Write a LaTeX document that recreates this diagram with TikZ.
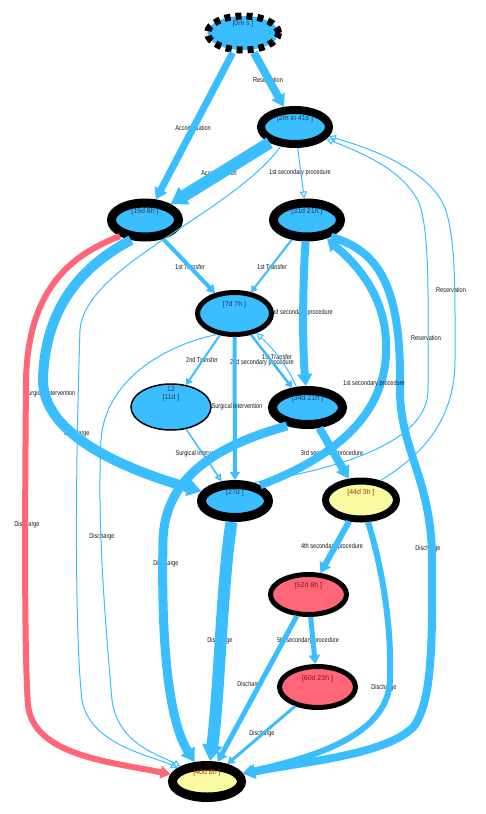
\documentclass[tikz,border=0pt]{standalone}
\usepackage{fontspec}
\usetikzlibrary{arrows.meta,shapes.geometric}
\newfontfamily\lblfont[FakeStretch=0.8]{Liberation Sans}
\newfontfamily\nodefont{Liberation Sans}
\definecolor{eb}{RGB}{59,190,255}
\definecolor{er}{RGB}{255,102,119}
\definecolor{ey}{RGB}{250,250,160}
\definecolor{tb}{RGB}{30,60,100}
\definecolor{ty}{RGB}{170,50,20}
\definecolor{tr}{RGB}{130,20,30}
\begin{document}
\begin{tikzpicture}[x=1bp,y=-1bp,
  st/.style={ellipse, draw=black, inner sep=0pt, fill=eb},
  elab/.style={font=\lblfont\fontsize{7bp}{8bp}\selectfont, text=black!90, inner sep=0pt},
  ntx/.style={font=\nodefont\fontsize{7bp}{8bp}\selectfont, inner sep=0pt, text=tb},
  fe/.style={draw=eb, line width=#1, -{Triangle[length=4bp 1, width=5bp 1.2]}},
  oe/.style={draw=eb, line width=#1, -{Triangle[open, length=7bp, width=7bp]}},
]
\fill[white] (0,0) rectangle (486,814);
\useasboundingbox (0,0) rectangle (486,814);

% states
\node[st, line width=7bp, dash pattern=on 6bp off 5bp, minimum width=71bp, minimum height=34bp] (n0) at (243,33) {};
\node[st, line width=8bp, minimum width=68bp, minimum height=34bp] (n1) at (295,127) {};
\node[st, line width=9bp, minimum width=67bp, minimum height=34bp] (n2) at (145,220) {};
\node[st, line width=9bp, minimum width=67bp, minimum height=34bp] (n3) at (307,220) {};
\node[st, line width=5bp, minimum width=74bp, minimum height=42bp] (n4) at (234.5,313.5) {};
\node[st, line width=1.5bp, minimum width=80bp, minimum height=46bp] (n5) at (171,407) {};
\node[st, line width=9bp, minimum width=70bp, minimum height=34bp] (n6) at (307.5,407.5) {};
\node[st, line width=9bp, minimum width=67bp, minimum height=33bp] (n7) at (235,501) {};
\node[st, line width=7bp, fill=ey, minimum width=71bp, minimum height=38bp] (n8) at (361,500) {};
\node[st, line width=5bp, fill=er, minimum width=76bp, minimum height=40bp] (n9) at (308.5,594.5) {};
\node[st, line width=5bp, fill=er, minimum width=76bp, minimum height=41bp] (n10) at (317.5,687) {};
\node[st, line width=9bp, fill=ey, minimum width=69bp, minimum height=32bp] (n11) at (207,781.5) {};
\draw[line width=1bp] (n11.center) ellipse [x radius=31bp, y radius=11.5bp];

% state texts
\node[ntx] (t0) at ([yshift=9bp]n0.center) {{[0m s ]}};
\node[ntx] (t1) at ([yshift=8.5bp]n1.center) {{[2m in 41s ]}};
\node[ntx] (t2) at ([yshift=8.5bp]n2.center) {{[19d 8h ]}};
\node[ntx] (t3) at ([yshift=8.5bp]n3.center) {{[31d 21h ]}};
\node[ntx] (t4) at ([yshift=8.5bp]n4.center) {{[7d 7h ]}};
\node[ntx] (t5a) at ([yshift=18bp]n5.center) {12};
\node[ntx] (t5b) at ([yshift=9bp]n5.center) {{[11d ]}};
\node[ntx] (t6) at ([yshift=9bp]n6.center) {{[34d 21h ]}};
\node[ntx] (t7) at ([yshift=8.5bp]n7.center) {{[27d ]}};
\node[ntx, text=ty] (t8) at ([yshift=7.5bp]n8.center) {{[44d 3h ]}};
\node[ntx, text=tr] (t9) at ([yshift=8.5bp]n9.center) {{[52d 8h ]}};
\node[ntx, text=tr] (t10) at ([yshift=8bp]n10.center) {{[60d 23h ]}};
\node[ntx, text=ty] (t11) at ([yshift=9bp]n11.center) {{[40d 8h ]}};

% edge labels (under the connectors)
\node[elab] (l1) at (193,128) {Accomodation};
\node[elab] (l2) at (268,80) {Reservation};
\node[elab] (l3) at (219,173) {Accomodation};
\node[elab] (l4) at (300,173) {1st secondary procedure};
\node[elab] (l5) at (77,434) {Discharge};
\node[elab] (l6) at (102,537) {Discharge};
\node[elab] (l7) at (190,267) {1st Transfer};
\node[elab] (l8) at (272,267) {1st Transfer};
\node[elab] (l9) at (301,313) {2nd secondary procedure};
\node[elab] (l10) at (262,363) {2nd secondary procedure};
\node[elab] (l11) at (277,357) {1st Transfer};
\node[elab] (l12) at (202,360) {2nd Transfer};
\node[elab] (l14) at (201,454) {Surgical intervention};
\node[elab] (l15) at (50,394) {Surgical intervention};
\node[elab] (l16) at (27,525) {Discharge};
\node[elab] (l17) at (166,564) {Discharge};
\node[elab] (l19) at (428,549) {Discharge};
\node[elab] (l20) at (332,454) {3rd secondary procedure};
\node[elab] (l21) at (220,641) {Discharge};
\node[elab] (l22) at (332,547) {4th secondary procedure};
\node[elab] (l23) at (384,688) {Discharge};
\node[elab] (l24) at (308,641) {5th secondary procedure};
\node[elab] (l25) at (250,685) {Discharge};
\node[elab] (l26) at (262,734) {Discharge};
\node[elab] (l27) at (426,338) {Reservation};
\node[elab] (l28) at (451,290) {Reservation};

% edges
\draw[fe=7bp] (n0) -- (n2);
\draw[fe=8bp] (n0) -- (n1);
\draw[fe=12bp] (n1) -- (n2);
\draw[oe=1bp] (n1) -- (n3);
\draw[oe=1bp] (n1) .. controls (230,215) and (85,265) .. (80,330) .. controls (75,480) and (75,640) .. (82,700) .. controls (90,745) and (150,755) .. (n11);
\draw[oe=1bp] (n4.230) .. controls (165,345) and (105,380) .. (101,440) .. controls (97,520) and (105,620) .. (112,700) .. controls (118,745) and (160,755) .. (n11);
\draw[fe=4bp] (n2) -- (n4);
\draw[fe=2bp] (n3) -- (n4);
\draw[fe=8bp] (n3) .. controls (303,280) and (302,340) .. (n6);
\draw[fe=2.5bp] (n4) -- (n6);
\draw[oe=1bp] (n6.118) .. controls (288,368) and (275,350) .. (n4);
\draw[fe=2bp] (n4) -- (n5);
\draw[fe=4bp] (n4) -- (n7);
\draw[oe=1.5bp] (n5) -- (n7);
\draw[fe=10bp] (n2.235) .. controls (90,262) and (45,300) .. (43,380) .. controls (43,430) and (110,465) .. (n7);
\draw[fe=6bp, draw=er] (n2.213) .. controls (70,255) and (28,290) .. (26,380) .. controls (25,500) and (24,650) .. (28,705) .. controls (33,755) and (110,762) .. (n11);
\draw[fe=9bp] (n6.222) .. controls (230,442) and (165,470) .. (163,540) .. controls (161,640) and (168,720) .. (n11);
\draw[fe=8bp] (n7.32) .. controls (340,455) and (390,410) .. (386,340) .. controls (383,285) and (345,255) .. (n3);
\draw[fe=8bp] (n3.325) .. controls (375,250) and (402,280) .. (400,390) .. controls (400,450) and (432,480) .. (432,560) .. controls (433,660) and (430,700) .. (415,725) .. controls (390,755) and (300,762) .. (n11);
\draw[fe=8bp] (n6) -- (n8);
\draw[fe=12bp] (n7) .. controls (222,580) and (219,700) .. (n11);
\draw[fe=6bp] (n8) -- (n9);
\draw[fe=6bp] (n8) .. controls (380,560) and (392,620) .. (390,680) .. controls (388,740) and (300,760) .. (n11);
\draw[fe=5bp] (n9) -- (n10);
\draw[fe=5bp] (n9) -- (n11);
\draw[fe=3bp] (n10) -- (n11);
\draw[oe=1bp] (n7.45) .. controls (330,470) and (428,445) .. (428,390) .. controls (428,300) and (430,240) .. (420,205) .. controls (405,170) and (360,152) .. (n1);
\draw[oe=1bp] (n8.45) .. controls (410,462) and (455,430) .. (455,360) .. controls (455,290) and (456,240) .. (445,208) .. controls (430,170) and (370,148) .. (n1);

% labels drawn over the connectors
\node[elab] (l13) at (237,407) {Surgical intervention};
\node[elab] (l18) at (374,384) {1st secondary procedure};
\end{tikzpicture}
\end{document}
